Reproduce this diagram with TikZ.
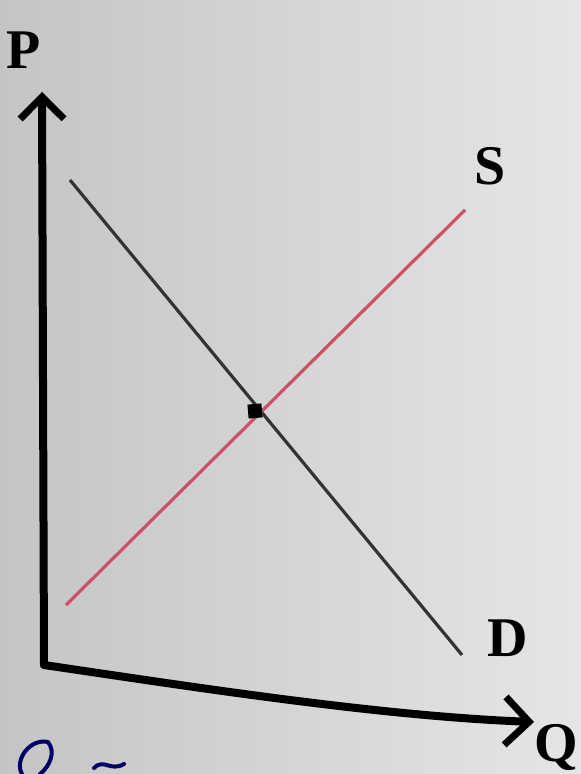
\documentclass[tikz,border=0pt]{standalone}
\usepackage{fontspec}
\setmainfont{Liberation Serif}
\usetikzlibrary{arrows.meta, positioning}
\definecolor{supplyred}{RGB}{205,80,105}

\begin{document}
\begin{tikzpicture}[
    x=0.5pt, y=-0.5pt,
    axis/.style={line width=4pt, line cap=round, line join=round,
                 -{Straight Barb[length=#1, width=2*#1, line width=3.5pt]}},
    curve/.style={line width=1.6pt, draw=#1},
    lbl/.style={font=\bfseries\fontsize{28}{30}\selectfont, inner sep=0pt},
    eqdot/.style={fill=black, minimum size=7pt, inner sep=0pt, rectangle, rotate=5},
]
% paper
\shade[left color=black!23, right color=black!10] (0,0) rectangle (581,774);
\useasboundingbox (0,0) rectangle (581,774);

% axes
\coordinate (origin) at (44,665);
\coordinate (ptip)   at (42,92);
\coordinate (qtip)   at (534,722);
\draw[axis=11pt] (origin) -- (ptip);
\draw[axis=12pt] (origin) .. controls (200,688) and (380,716) .. (qtip);

% supply and demand
\coordinate (d1) at (70,180);
\coordinate (d2) at (462,655);
\coordinate (s1) at (66,605);
\coordinate (s2) at (465,210);
\draw[curve=black!80] (d1) -- (d2);
\draw[curve=supplyred] (s1) -- (s2);
\node[eqdot] (eq) at (255,411) {};

% labels
\node[lbl] (plbl) at (24,50)  {P};
\node[lbl] (slbl) at (490,166) {S};
\node[lbl] (dlbl) at (508,638) {D};
\node[lbl, anchor=south east] (qlbl) at (578,771) {Q};

% stray pen marks
\draw[line width=2pt, draw=blue!40!black, line cap=round]
    (48,742) .. controls (30,738) and (14,760) .. (22,774)
    (48,742) .. controls (56,752) and (50,766) .. (40,774);
\draw[line width=2pt, draw=blue!40!black, line cap=round]
    (94,768) .. controls (104,758) and (110,772) .. (124,764);
\end{tikzpicture}
\end{document}
